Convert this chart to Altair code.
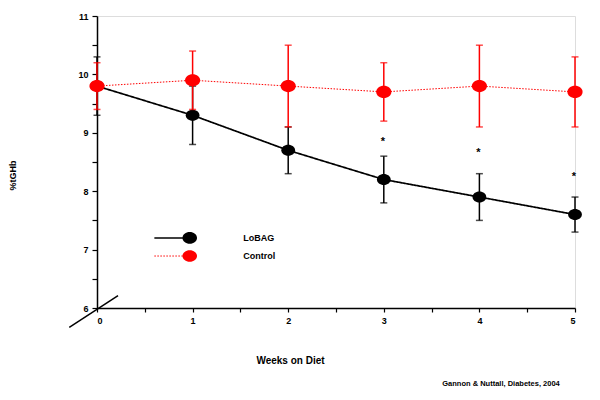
import altair as alt
import pandas as pd

weeks = [0, 1, 2, 3, 4, 5]
lobag_mean = [9.8, 9.3, 8.7, 8.2, 7.9, 7.6]
lobag_lo = [9.3, 8.8, 8.3, 7.8, 7.5, 7.3]
lobag_hi = [10.3, 9.8, 9.1, 8.6, 8.3, 7.9]
ctrl_mean = [9.8, 9.9, 9.8, 9.7, 9.8, 9.7]
ctrl_lo = [9.4, 9.4, 9.1, 9.2, 9.1, 9.1]
ctrl_hi = [10.2, 10.4, 10.5, 10.2, 10.5, 10.3]
star_weeks = [3, 4, 5]
star_y = [8.85, 8.65, 8.25]
series_names = ["LoBAG", "Control"]
citation = "Gannon & Nuttall, Diabetes, 2004"

lob = pd.DataFrame({"w": weeks, "m": lobag_mean, "lo": lobag_lo, "hi": lobag_hi})
ctl = pd.DataFrame({"w": weeks, "m": ctrl_mean, "lo": ctrl_lo, "hi": ctrl_hi})
stars = pd.DataFrame({"w": star_weeks, "y": star_y, "t": ["*"] * 3})

xs = alt.Scale(domain=[0, 5], nice=False, zero=False)
ys = alt.Scale(domain=[6, 11], nice=False, zero=False)

xaxis = alt.Axis(
    values=[i * 0.5 for i in range(11)],
    labelExpr="datum.value % 1 == 0 ? format(datum.value, 'd') : ''",
    title="Weeks on Diet", titleFontSize=10, titleFontWeight="bold",
    titleFont="Liberation Sans", titleColor="black", titlePadding=30, titleX=193,
    labelFont="Liberation Sans", labelFontSize=9, labelFontWeight="bold", labelColor="black",
    labelPadding=4, tickColor="black", tickSize=4, tickWidth=1.2,
    domainColor="black", domainWidth=1.5, grid=False,
)
yaxis = alt.Axis(
    values=[6 + i * 0.5 for i in range(11)],
    labelExpr="datum.value % 1 == 0 ? format(datum.value, 'd') : ''",
    title="%tGHb", titleFontSize=9, titleFontWeight="bold",
    titleFont="Liberation Sans", titleColor="black", titleX=-80, titleY=159,
    labelFont="Liberation Sans", labelFontSize=9, labelFontWeight="bold", labelColor="black",
    labelPadding=4, tickColor="black", tickSize=5, tickWidth=1.2,
    domainColor="black", domainWidth=1.5, grid=False,
)

ELLIPSE = "M -1 0 A 1 0.8 0 1 1 1 0 A 1 0.8 0 1 1 -1 0 Z"

def series(df, color, dash, width, msize):
    X = alt.X("w:Q", scale=xs, axis=xaxis)
    line = alt.Chart(df).mark_line(color=color, strokeWidth=width, strokeDash=dash).encode(
        x=X, y=alt.Y("m:Q", scale=ys, axis=yaxis))
    rule = alt.Chart(df).mark_rule(color=color, strokeWidth=1.5).encode(
        x=X, y=alt.Y("lo:Q", scale=ys, axis=yaxis), y2="hi:Q")
    caplo = alt.Chart(df).mark_tick(color=color, orient="horizontal", size=7, thickness=1.5).encode(
        x=X, y=alt.Y("lo:Q", scale=ys, axis=yaxis))
    caphi = alt.Chart(df).mark_tick(color=color, orient="horizontal", size=7, thickness=1.5).encode(
        x=X, y=alt.Y("hi:Q", scale=ys, axis=yaxis))
    pts = alt.Chart(df).mark_point(shape=ELLIPSE, filled=True, color=color, opacity=1, size=msize).encode(
        x=X, y=alt.Y("m:Q", scale=ys, axis=yaxis))
    return [line, rule, caplo, caphi, pts]

X = alt.X("w:Q", scale=xs, axis=xaxis)

star_layer = alt.Chart(stars).mark_text(font="Liberation Sans", fontSize=11, fontWeight="bold", color="black", dx=-1).encode(
    x=X, y=alt.Y("y:Q", scale=ys, axis=yaxis), text="t:N")

# legend drawn in data coordinates
leg = pd.DataFrame({
    "name": series_names,
    "x1": [0.6, 0.6], "x2": [0.97, 0.97], "tx": [1.53, 1.53],
    "y": [7.2, 6.89],
})
leg_lob = alt.Chart(leg[leg.name == "LoBAG"]).mark_rule(color="black", strokeWidth=1.5).encode(
    x=alt.X("x1:Q", scale=xs, axis=xaxis), x2="x2:Q", y=alt.Y("y:Q", scale=ys, axis=yaxis))
leg_ctl = alt.Chart(leg[leg.name == "Control"]).mark_rule(color="red", strokeWidth=1, strokeDash=[1.5, 1.5]).encode(
    x=alt.X("x1:Q", scale=xs, axis=xaxis), x2="x2:Q", y=alt.Y("y:Q", scale=ys, axis=yaxis))
leg_pts = alt.Chart(leg).mark_point(shape=ELLIPSE, filled=True, opacity=1, size=210).encode(
    x=alt.X("x2:Q", scale=xs, axis=xaxis), y=alt.Y("y:Q", scale=ys, axis=yaxis),
    color=alt.Color("name:N", scale=alt.Scale(domain=series_names, range=["black", "red"]), legend=None))
leg_txt = alt.Chart(leg).mark_text(align="left", baseline="middle", font="Liberation Sans",
                                   fontSize=9, fontWeight="bold", color="black").encode(
    x=alt.X("tx:Q", scale=xs, axis=xaxis), y=alt.Y("y:Q", scale=ys, axis=yaxis), text="name:N")

# broken-axis slash
brk = pd.DataFrame({"x1": [-0.29], "x2": [0.22], "y1": [5.67], "y2": [6.21]})
brk_layer = alt.Chart(brk).mark_rule(color="black", strokeWidth=1.5, clip=False).encode(
    x=alt.X("x1:Q", scale=xs, axis=xaxis), x2="x2:Q",
    y=alt.Y("y1:Q", scale=ys, axis=yaxis), y2="y2:Q")

cit = pd.DataFrame({"t": [citation]})
cit_layer = alt.Chart(cit).mark_text(font="Liberation Sans", fontSize=7.5, fontWeight="bold",
                                     color="black", align="center", baseline="middle").encode(
    x=alt.value(404), y=alt.value(368), text="t:N")

layers = series(lob, "black", [1, 0], 1.7, 190) + series(ctl, "red", [1.5, 1.5], 1, 230) + [
    star_layer, leg_lob, leg_ctl, leg_pts, leg_txt, brk_layer, cit_layer]

chart = alt.layer(*layers).properties(
    width=478, height=292, autosize="none",
    padding={"left": 89, "top": 8, "right": 15, "bottom": 84},
).configure_view(stroke=None).configure(background="white")

chart.save("out.html", embed_options={"renderer": "svg", "actions": False})
